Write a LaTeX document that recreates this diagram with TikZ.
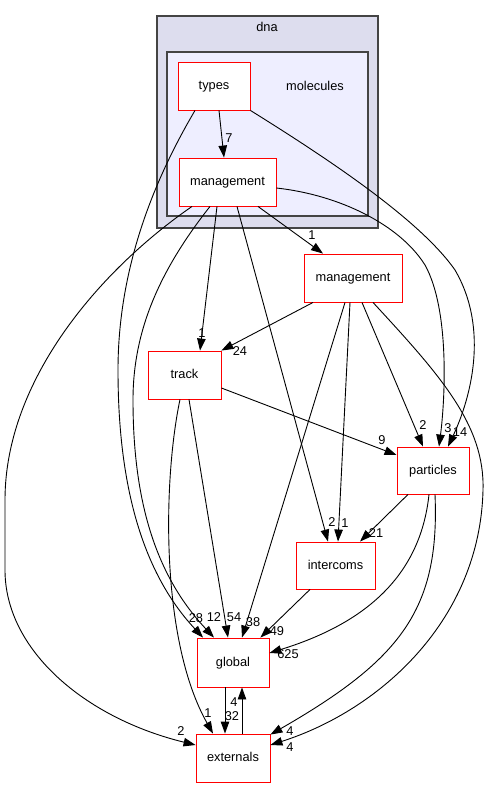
\documentclass[tikz,border=0pt]{standalone}
\usepackage{fontspec}
\setmainfont{Liberation Sans}
\usetikzlibrary{arrows.meta,calc}
\definecolor{dnafill}{HTML}{DDDDEE}
\definecolor{molfill}{HTML}{EEEEFF}
\definecolor{clborder}{HTML}{444444}
\begin{document}
\begin{tikzpicture}[x=1pt,y=-1pt,
  dirbox/.style={draw=red, fill=white, line width=0.9pt, inner sep=0pt, text height=9pt, text depth=2pt, font=\fontsize{12.8}{14}\selectfont},
  conn/.style={draw=black, line width=0.9pt, -{Triangle[length=12pt,width=8.5pt]}},
  lbl/.style={inner sep=0pt, font=\fontsize{12.8}{14}\selectfont},
  cluster/.style={draw=clborder, line width=1.6pt}]
\useasboundingbox (0,0) rectangle (491,788);
% clusters
\draw[cluster, fill=dnafill] (157,16) rectangle (378,228);
\node[lbl] (dnalbl) at (267,27) {dna};
\draw[cluster, fill=molfill] (167,52) rectangle (368,216);
\node[lbl] (mollbl) at (315,86) {molecules};
% nodes
\node[dirbox, minimum width=72pt, minimum height=48pt] (types) at (214,86) {types};
\node[dirbox, minimum width=97pt, minimum height=48pt] (mgmt) at (227.5,182) {management};
\node[dirbox, minimum width=98pt, minimum height=48pt] (mgmt2) at (353,278) {management};
\node[dirbox, minimum width=73pt, minimum height=48pt] (track) at (184.5,375) {track};
\node[dirbox, minimum width=72pt, minimum height=47pt] (particles) at (433,470.5) {particles};
\node[dirbox, minimum width=79pt, minimum height=47pt] (intercoms) at (335.5,565.5) {intercoms};
\node[dirbox, minimum width=72pt, minimum height=49pt] (global) at (233,662.5) {global};
\node[dirbox, minimum width=74pt, minimum height=48pt] (externals) at (233,758) {externals};
% edges
\draw[conn] ($(types.south)+(5,0)$) -- ($(mgmt.north)+(-3.5,0)$);
\draw[conn] ($(types.south)+(-19,0)$) .. controls (160,170) and (118,260) .. (118,370)
  .. controls (118,480) and (140,570) .. ($(global.north)+(-30,0)$);
\draw[conn] (types.south east) .. controls (330,160) and (420,220) .. (455,270)
  .. controls (490,330) and (470,400) .. ($(particles.north)+(15,0)$);
\draw[conn] ($(mgmt.east)+(0,6)$) .. controls (340,195) and (400,225) .. (425,265)
  .. controls (450,310) and (445,400) .. ($(particles.north)+(6,0)$);
\draw[conn] ($(mgmt.south)+(-35.5,0)$) .. controls (100,270) and (5,380) .. (5,500)
  -- (5,570) .. controls (5,650) and (85,718) .. ($(externals.west)+(0,-13)$);
\draw[conn] ($(mgmt.south)+(-17.5,0)$) .. controls (160,270) and (133,330) .. (133,400)
  .. controls (133,510) and (160,580) .. ($(global.north)+(-19,0)$);
\draw[conn] ($(mgmt.south)+(-10.5,0)$) -- ($(track.north)+(15.5,0)$);
\draw[conn] ($(mgmt.south)+(9.5,0)$) -- ($(intercoms.north)+(-7.5,0)$);
\draw[conn] ($(mgmt.south)+(30.5,0)$) -- ($(mgmt2.north)+(-30,0)$);
\draw[conn] ($(mgmt2.south)+(-40,0)$) -- (track.north east);
\draw[conn] ($(mgmt2.south)+(-8,0)$) -- ($(global.north)+(9,0)$);
\draw[conn] ($(mgmt2.south)+(-3,0)$) -- ($(intercoms.north)+(2.5,0)$);
\draw[conn] ($(mgmt2.south)+(9,0)$) -- ($(particles.north)+(-10,0)$);
\draw[conn] ($(mgmt2.south)+(20,0)$) .. controls (440,375) and (485,425) .. (483,490)
  .. controls (480,620) and (380,710) .. ($(externals.east)+(0,-13)$);
\draw[conn] ($(track.east)+(0,13)$) -- ($(particles.west)+(0,-15.5)$);
\draw[conn] ($(track.south)+(4.5,0)$) -- ($(global.north)+(-5,0)$);
\draw[conn] ($(track.south)+(-4.5,0)$) .. controls (163,480) and (160,640) .. ($(externals.north)+(-20,0)$);
\draw[conn] ($(particles.south)+(-25,0)$) -- ($(intercoms.north)+(24.5,0)$);
\draw[conn] ($(particles.south)+(-4,0)$) .. controls (420,580) and (360,625) .. ($(global.east)+(0,-9.5)$);
\draw[conn] ($(particles.south)+(2,0)$) .. controls (440,610) and (400,660) .. ($(externals.north east)+(0,1)$);
\draw[conn] ($(intercoms.south)+(-25.5,0)$) -- ($(global.north east)+(-9,0)$);
\draw[conn] ($(global.south)+(-8,0)$) -- ($(externals.north)+(-8,0)$);
\draw[conn] ($(externals.north)+(9,0)$) -- ($(global.south)+(9,0)$);
% labels
\node[lbl] (l1) at (229,138) {7};
\node[lbl] (l2) at (196,618) {28};
\node[lbl] (l3) at (214,617) {12};
\node[lbl] (l4) at (234,617) {54};
\node[lbl] (l5) at (253,622) {38};
\node[lbl] (l6) at (277,631) {49};
\node[lbl] (l7) at (288,654) {625};
\node[lbl] (l8) at (181,731) {2};
\node[lbl] (l9) at (208,713) {1};
\node[lbl] (l10) at (232,716) {32};
\node[lbl] (l11) at (234,702) {4};
\node[lbl] (l12) at (290,731) {4};
\node[lbl] (l13) at (290,747) {4};
\node[lbl] (l14) at (332,522) {2};
\node[lbl] (l15) at (345,523) {1};
\node[lbl] (l16) at (376,533) {21};
\node[lbl] (l17) at (382,440) {9};
\node[lbl] (l18) at (423,425) {2};
\node[lbl] (l19) at (448,428) {3};
\node[lbl] (l20) at (460,432) {14};
\node[lbl] (l21) at (202,333) {1};
\node[lbl] (l22) at (240,351) {24};
\node[lbl] (l23) at (312,235) {1};
\end{tikzpicture}
\end{document}
